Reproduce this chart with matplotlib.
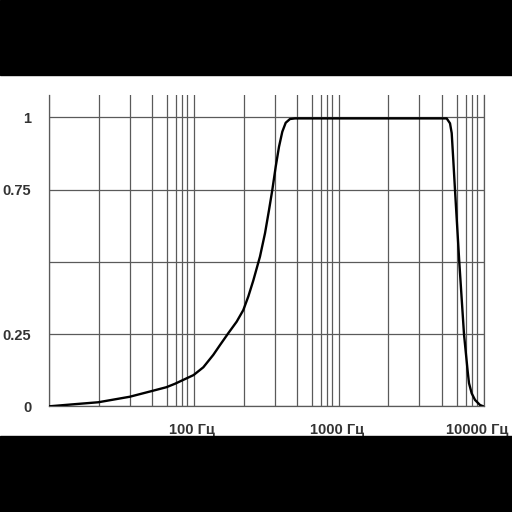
import matplotlib.pyplot as plt
import numpy as np
from matplotlib.patches import Rectangle

# frequency response (Hz, relative level)
freq = [10, 14.7, 21.8, 35.9, 51.2, 64.3, 73.8, 99.1, 115.8, 135.7, 151,
        172.3, 196.9, 218.7, 236.8, 256.3, 285.1, 308.9, 329.1, 346.7,
        366.1, 385.8, 406.6, 429.2, 459.6, 497.7,
        5552, 5852, 6012, 6166, 6336, 6437, 6785, 7311, 7754, 7916,
        8260, 8710, 9428, 9936]
level = [0.0, 0.007, 0.014, 0.033, 0.053, 0.066, 0.078, 0.108, 0.135, 0.178, 0.212,
         0.253, 0.293, 0.333, 0.38, 0.435, 0.518, 0.599, 0.679, 0.748,
         0.829, 0.898, 0.950, 0.981, 0.994, 0.996,
         0.996, 0.979, 0.945, 0.852, 0.748, 0.69, 0.498, 0.249, 0.12, 0.08,
         0.045, 0.022, 0.0045, 0.0]

x_major = [10, 100, 1000, 10000]
x_labels = ['100 Гц', '1000 Гц', '10000 Гц']
x_label_pos = [100, 1000, 10000]
minor_mult = [2.2, 3.6, 5.15, 6.5, 7.5, 8.3, 9.0]
y_ticks = [0, 0.25, 0.5, 0.75, 1]
y_labels = ['0', '0.25', '', '0.75', '1']

gridc = '#5a5a5a'
textc = '#333333'

fig = plt.figure(figsize=(5.12, 5.12), dpi=100)
fig.patch.set_facecolor('white')
ax = fig.add_axes([49.3/512, 105.7/512, 434.4/512, 311.3/512])

ax.plot(freq, level, color='black', lw=1.7, solid_joinstyle='round',
        solid_capstyle='round', zorder=3)
ax.set_xscale('log')
ax.set_xlim(10, 10000)
ax.set_ylim(0, 1.077)

minors = [d * m for d in [10, 100, 1000] for m in minor_mult]
ax.set_xticks(x_major)
ax.set_xticks(minors, minor=True)
ax.set_xticklabels([])
ax.set_xticklabels([], minor=True)
ax.set_yticks(y_ticks)
ax.set_yticklabels(y_labels, fontsize=10.5, fontweight='bold', color=textc,
                   family='Liberation Sans')
ax.tick_params(axis='both', which='both', length=0)
ax.tick_params(axis='y', pad=13)
ax.grid(True, which='both', color=gridc, lw=0.9)
ax.set_axisbelow(True)

for s in ['left', 'right', 'bottom']:
    ax.spines[s].set_color(gridc)
    ax.spines[s].set_linewidth(0.9)
ax.spines['top'].set_visible(False)

shifts = [-2, -2, -7]
for f, lab, sh in zip(x_label_pos, x_labels, shifts):
    ax.annotate(lab, xy=(f, 0), xycoords=('data', 'axes fraction'),
                xytext=(sh * 0.72, -11.8), textcoords='offset points',
                ha='center', va='top', fontsize=10.5, fontweight='bold',
                color=textc, family='Liberation Sans', annotation_clip=False)

# black bands top and bottom
fig.patches.append(Rectangle((0, 437/512), 1, 75/512, transform=fig.transFigure,
                             color='black', zorder=10))
fig.patches.append(Rectangle((0, 0), 1, 76/512, transform=fig.transFigure,
                             color='black', zorder=10))

fig.savefig('out.png', dpi=100, facecolor='white')
